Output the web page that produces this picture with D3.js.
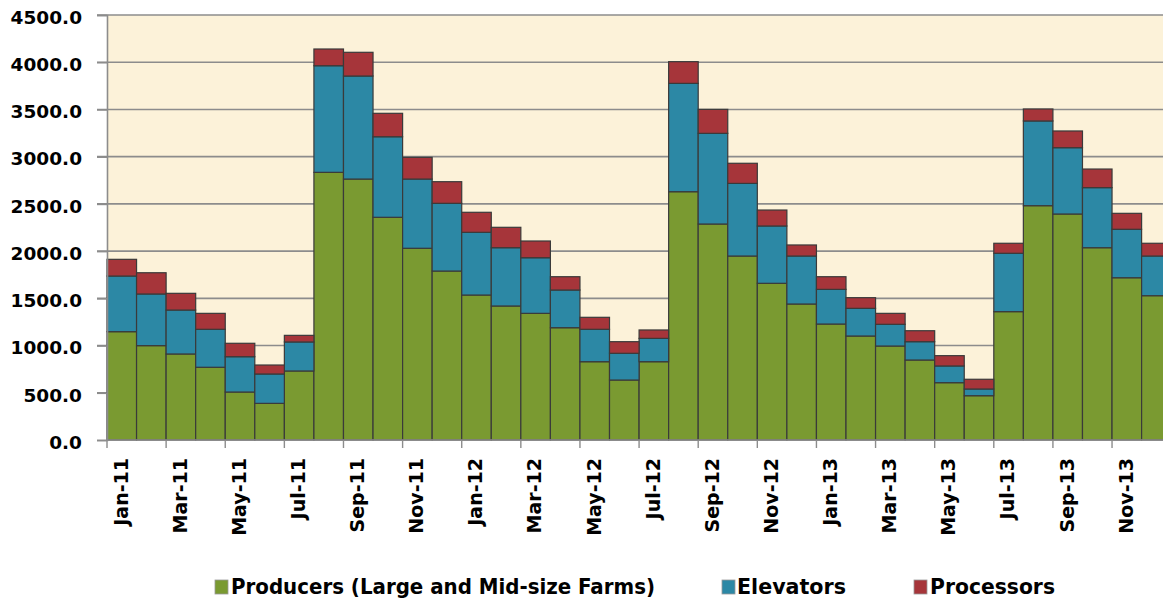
<!DOCTYPE html>
<html>
<head>
<meta charset="utf-8">
<script src="https://cdn.jsdelivr.net/npm/d3@7"></script>
<style>
  html, body { margin: 0; padding: 0; background: #ffffff; overflow: hidden; }
  svg { display: block; }
</style>
</head>
<body>
<svg id="chart" width="1163" height="601"></svg>
<script>
const months = ["Jan-11","Feb-11","Mar-11","Apr-11","May-11","Jun-11","Jul-11","Aug-11","Sep-11","Oct-11","Nov-11","Dec-11",
                "Jan-12","Feb-12","Mar-12","Apr-12","May-12","Jun-12","Jul-12","Aug-12","Sep-12","Oct-12","Nov-12","Dec-12",
                "Jan-13","Feb-13","Mar-13","Apr-13","May-13","Jun-13","Jul-13","Aug-13","Sep-13","Oct-13","Nov-13","Dec-13"];
const producers  = [1147, 999, 911, 770, 508, 388, 731, 2834, 2763, 2358, 2030, 1789,
                    1535, 1419, 1341, 1189, 829, 635, 829, 2629, 2287, 1948, 1659, 1440,
                    1228, 1101, 995, 847, 607, 469, 1359, 2481, 2393, 2036, 1718, 1528];
const elevators  = [589, 547, 465, 402, 374, 311, 307, 1129, 1091, 853, 733, 717,
                    664, 617, 589, 399, 343, 283, 247, 1147, 960, 769, 607, 508,
                    367, 293, 230, 194, 177, 71, 618, 897, 702, 636, 513, 420];
const processors = [177, 225, 177, 169, 142, 95, 70, 177, 251, 248, 230, 229,
                    212, 216, 177, 141, 127, 123, 89, 230, 254, 213, 169, 117,
                    134, 113, 116, 116, 109, 103, 106, 127, 177, 197, 169, 135];
const seriesNames = ["Producers (Large and Mid-size Farms)", "Elevators", "Processors"];
const seriesColors = ["#7a9a31", "#2c88a5", "#a6353a"];
const yTicks = [0, 500, 1000, 1500, 2000, 2500, 3000, 3500, 4000, 4500];
const xLabelMonths = months.filter((m, i) => i % 2 === 0);

const W = 1163, H = 601;
const plotLeft = 107, plotTop = 15, plotBottom = 440, band = 29.56;
const svg = d3.select("#chart");

const x = d3.scaleBand().domain(months).range([plotLeft, plotLeft + months.length * band]).padding(0);
const y = d3.scaleLinear().domain([0, 4500]).range([plotBottom, plotTop]);

// plot background
svg.append("rect")
  .attr("x", plotLeft).attr("y", y(4500))
  .attr("width", W - plotLeft).attr("height", y(0) - y(4500))
  .attr("fill", "#fcf2d9");

// gridlines
svg.append("g").selectAll("line").data(yTicks.filter(d => d > 0)).join("line")
  .attr("x1", plotLeft - 10).attr("x2", W)
  .attr("y1", d => y(d)).attr("y2", d => y(d))
  .attr("stroke", "#8c8c8c").attr("stroke-width", 1.6);

// stacked data
const rows = months.map((m, i) => ({ month: m, p: producers[i], e: elevators[i], r: processors[i] }));
const stack = d3.stack().keys(["p", "e", "r"]);
const layers = stack(rows);

svg.append("g").selectAll("g").data(layers).join("g")
  .attr("fill", (d, i) => seriesColors[i])
  .selectAll("rect").data(d => d).join("rect")
  .attr("x", d => x(d.data.month))
  .attr("width", x.bandwidth())
  .attr("y", d => y(d[1]))
  .attr("height", d => y(d[0]) - y(d[1]))
  .attr("stroke", "#3a3a3a").attr("stroke-width", 1.2);

// y axis
const yAxis = svg.append("g").attr("transform", `translate(${plotLeft},0)`)
  .call(d3.axisLeft(y).tickValues(yTicks).tickSize(10).tickPadding(15).tickFormat(d => d.toFixed(1)));
yAxis.select(".domain").attr("stroke", "#8c8c8c").attr("stroke-width", 1.6);
yAxis.selectAll(".tick line").attr("stroke", "#8c8c8c").attr("stroke-width", 1.6);
yAxis.selectAll(".tick text")
  .attr("font-family", "DejaVu Sans, sans-serif").attr("font-weight", "bold")
  .attr("font-size", "18.5px").attr("fill", "#000").attr("dy", "0.45em");

// x axis line
svg.append("line").attr("x1", plotLeft).attr("x2", W).attr("y1", y(0)).attr("y2", y(0))
  .attr("stroke", "#8c8c8c").attr("stroke-width", 1.6);

// x tick marks at every other band start
svg.append("g").selectAll("line").data(xLabelMonths).join("line")
  .attr("x1", d => x(d)).attr("x2", d => x(d))
  .attr("y1", y(0)).attr("y2", y(0) + 8)
  .attr("stroke", "#8c8c8c").attr("stroke-width", 1.4);

// x labels
svg.append("g").selectAll("text").data(xLabelMonths).join("text")
  .attr("transform", d => `translate(${x(d) + x.bandwidth() / 2 - 1},458) rotate(-90)`)
  .attr("text-anchor", "end")
  .attr("dy", "0.36em")
  .attr("font-family", "DejaVu Sans, sans-serif").attr("font-weight", "bold")
  .attr("font-size", "19px").attr("fill", "#000")
  .text(d => d);

// legend
const legendItems = [
  { name: seriesNames[0], color: seriesColors[0], sx: 215, tx: 231, tw: 424 },
  { name: seriesNames[1], color: seriesColors[1], sx: 722, tx: 737, tw: 109 },
  { name: seriesNames[2], color: seriesColors[2], sx: 914, tx: 930, tw: 125 }
];
const lg = svg.append("g").selectAll("g").data(legendItems).join("g");
lg.append("rect")
  .attr("x", d => d.sx).attr("y", 580).attr("width", 13).attr("height", 14)
  .attr("fill", d => d.color).attr("stroke", "#9a9a9a").attr("stroke-width", 0.8);
lg.append("text")
  .attr("x", d => d.tx).attr("y", 594)
  .attr("font-family", "Liberation Sans Narrow, DejaVu Sans Condensed, Liberation Sans, sans-serif")
  .attr("font-weight", "bold").attr("font-size", "22px").attr("fill", "#000")
  .attr("textLength", d => d.tw).attr("lengthAdjust", "spacingAndGlyphs")
  .text(d => d.name);
</script>
</body>
</html>
